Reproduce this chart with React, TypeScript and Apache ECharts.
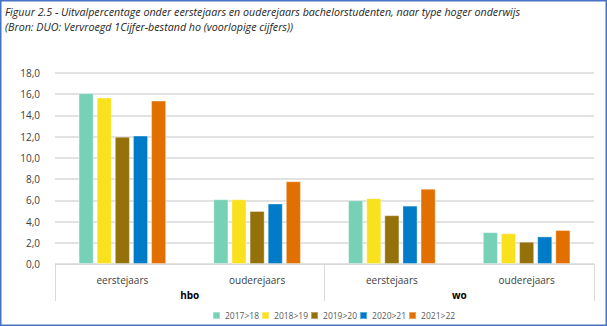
import React, { useEffect, useRef } from "react";
import * as echarts from "echarts";

const categories = ["eerstejaars", "ouderejaars", "eerstejaars", "ouderejaars"];
const groups = ["hbo", "wo"];
const seriesNames = ["2017>18", "2018>19", "2019>20", "2020>21", "2021>22"];
const v2017 = [16.1, 6.1, 6.0, 3.0];
const v2018 = [15.7, 6.1, 6.2, 2.9];
const v2019 = [12.0, 5.0, 4.6, 2.1];
const v2020 = [12.1, 5.7, 5.5, 2.6];
const v2021 = [15.4, 7.8, 7.1, 3.2];
const seriesValues = [v2017, v2018, v2019, v2020, v2021];
const colors = ["#76D1B6", "#F9E11E", "#94710A", "#007BC7", "#E17000"];
const titleLine1 =
  "Figuur 2.5 - Uitvalpercentage onder eerstejaars en ouderejaars bachelorstudenten, naar type hoger onderwijs";
const titleLine2 = "(Bron: DUO: Vervroegd 1Cijfer-bestand ho (voorlopige cijfers))";

export default function App() {
  const ref = useRef<HTMLDivElement>(null);
  useEffect(() => {
    document.body.style.margin = "0";
    const chart = echarts.init(ref.current!, null, { renderer: "svg" });
    const font = "'Open Sans', sans-serif";
    chart.setOption({
      animation: false,
      backgroundColor: "#ffffff",
      grid: { left: 55, right: 13, top: 73, bottom: 62, containLabel: false },
      legend: {
        bottom: 1,
        left: 207,
        itemWidth: 7,
        itemHeight: 7,
        itemGap: 2,
        icon: "rect",
        textStyle: { fontFamily: font, fontSize: 8.5, color: "#595959" },
        data: seriesNames,
      },
      xAxis: [
        {
          type: "category",
          data: categories,
          position: "bottom",
          axisLine: { show: true, lineStyle: { color: "#d9d9d9", width: 1 } },
          axisTick: { show: false },
          axisLabel: { margin: 11, fontFamily: font, fontSize: 10, color: "#404040" },
        },
        {
          type: "category",
          data: groups,
          position: "bottom",
          axisLine: { show: false },
          axisTick: { show: true, length: 37, interval: 0, lineStyle: { color: "#d9d9d9", width: 1 } },
          axisLabel: { margin: 26, fontFamily: font, fontSize: 10, fontWeight: "bold", color: "#000000" },
        },
      ],
      yAxis: {
        type: "value",
        min: 0,
        max: 18,
        interval: 2,
        axisLine: { show: false },
        axisTick: { show: false },
        splitLine: { lineStyle: { color: "#d9d9d9", width: 1.5 } },
        axisLabel: {
          margin: 15,
          fontFamily: font,
          fontSize: 10,
          color: "#404040",
          formatter: (v: number) => v.toFixed(1).replace(".", ","),
        },
      },
      series: seriesNames.map((name, i) => ({
        name,
        type: "bar",
        xAxisIndex: 0,
        data: seriesValues[i],
        barGap: "20%",
        barCategoryGap: "35%",
        itemStyle: { color: colors[i], borderColor: "rgba(255,255,255,0.35)", borderWidth: 1 },
      })),
      graphic: [
        {
          type: "rect",
          shape: { x: 0.75, y: 0.75, width: 605.5, height: 324.5 },
          style: { fill: "none", stroke: "#4472C4", lineWidth: 1.5 },
          silent: true,
        },
        {
          type: "text",
          left: 5,
          top: 6,
          style: { text: titleLine1, font: `italic 10.7px ${font}`, fill: "#262626" },
        },
        {
          type: "text",
          left: 5,
          top: 21,
          style: { text: titleLine2, font: `italic 10.7px ${font}`, fill: "#262626" },
        },
      ],
    });
    return () => chart.dispose();
  }, []);
  return <div ref={ref} style={{ width: 607, height: 326 }} />;
}
